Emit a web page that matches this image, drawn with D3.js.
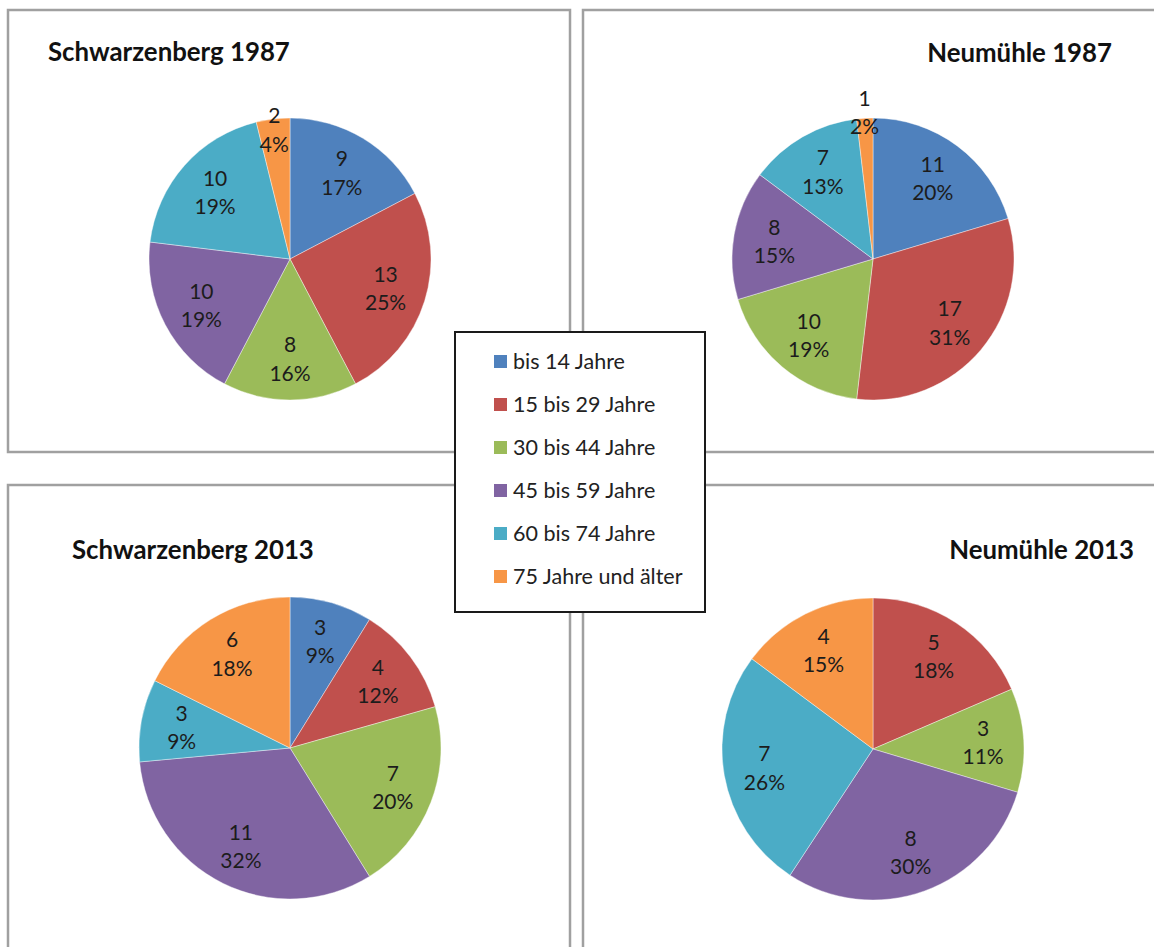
<!DOCTYPE html>
<html>
<head>
<meta charset="utf-8">
<script src="https://cdn.jsdelivr.net/npm/d3@7"></script>
<style>
  body{margin:0;background:#fff;}
  svg{display:block;font-family:Lato,"Open Sans",sans-serif;}
</style>
</head>
<body>
<div id="chart"></div>
<script>
// age groups (legend order = slice order)
var categories=["bis 14 Jahre","15 bis 29 Jahre","30 bis 44 Jahre","45 bis 59 Jahre","60 bis 74 Jahre","75 Jahre und älter"];
var colors=["#4F81BD","#C0504D","#9BBB59","#8064A2","#4BACC6","#F79646"];

var titles=["Schwarzenberg 1987","Neumühle 1987","Schwarzenberg 2013","Neumühle 2013"];

// counts per age group
var schwarzenberg1987=[9,13,8,10,10,2];
var neumuehle1987=[11,17,10,8,7,1];
var schwarzenberg2013=[3,4,7,11,3,6];
var neumuehle2013=[0,5,3,8,7,4];

// percentages as printed on the labels
var schwarzenberg1987Pct=[17,25,16,19,19,4];
var neumuehle1987Pct=[20,31,19,15,13,2];
var schwarzenberg2013Pct=[9,12,20,32,9,18];
var neumuehle2013Pct=[0,18,11,30,26,15];

var series=[schwarzenberg1987,neumuehle1987,schwarzenberg2013,neumuehle2013];
var percents=[schwarzenberg1987Pct,neumuehle1987Pct,schwarzenberg2013Pct,neumuehle2013Pct];

// panel layout
var panels=[
  {x:8,y:10,w:562,h:442,cx:290,cy:259,r:141,tx:48,ty:61,anchor:"start",lr:0.71},
  {x:583,y:10,w:600,h:442,cx:873,cy:259,r:141,tx:1112,ty:62,anchor:"end",lr:0.71},
  {x:8,y:485,w:562,h:500,cx:290,cy:748,r:151,tx:72,ty:559,anchor:"start",lr:0.73},
  {x:583,y:485,w:600,h:500,cx:873,cy:749,r:151,tx:1134,ty:559,anchor:"end",lr:0.73}
];

var width=1154,height=947;

var svg=d3.select("#chart").append("svg")
  .attr("width",width)
  .attr("height",height);

var color=d3.scaleOrdinal()
  .domain(categories)
  .range(colors);

var pie=d3.pie()
  .sort(null)
  .value(function(d){return d.value;});

for(var p=0;p<panels.length;p++){
  var P=panels[p];
  var values=series[p];
  var pct=percents[p];
  var total=d3.sum(values);

  var data=categories.map(function(c,i){
    return {cat:c,value:values[i],pct:pct[i]};
  });

  svg.append("rect")
    .attr("x",P.x)
    .attr("y",P.y)
    .attr("width",P.w)
    .attr("height",P.h)
    .attr("fill","#fff")
    .attr("stroke","#a0a0a0")
    .attr("stroke-width",2.5);

  svg.append("text")
    .attr("x",P.tx)
    .attr("y",P.ty)
    .attr("text-anchor",P.anchor)
    .style("font-size","25.8px")
    .style("font-weight","bold")
    .style("fill","#111")
    .text(titles[p]);

  var arc=d3.arc()
    .innerRadius(0)
    .outerRadius(P.r);

  var g=svg.append("g")
    .attr("transform","translate("+P.cx+","+P.cy+")");

  var arcs=pie(data).filter(function(d){return d.data.value>0;});

  g.selectAll("path")
    .data(arcs)
    .enter().append("path")
    .attr("d",arc)
    .attr("fill",function(d){return color(d.data.cat);})
    .attr("stroke","#fff")
    .attr("stroke-opacity",0.5)
    .attr("stroke-width",0.8);

  // label radius: small slices get pushed outwards like excel's best fit
  var lr=P.lr;
  var labels=g.selectAll("g.lbl")
    .data(arcs)
    .enter().append("g")
    .attr("class","lbl")
    .attr("transform",function(d){
      var frac=d.data.value/total;
      var k=lr;
      if(frac<0.03) k=1.04;
      else if(frac<0.05) k=0.92;
      var a=(d.startAngle+d.endAngle)/2;
      return "translate("+(Math.sin(a)*P.r*k)+","+(-Math.cos(a)*P.r*k)+")";
    });

  labels.append("text")
    .attr("text-anchor","middle")
    .attr("dy","-0.33em")
    .style("font-size","21px")
    .style("fill","#1c1c1c")
    .text(function(d){return d.data.value;});

  labels.append("text")
    .attr("text-anchor","middle")
    .attr("dy","1.02em")
    .style("font-size","21px")
    .style("fill","#1c1c1c")
    .text(function(d){return d.data.pct+"%";});
}

// legend box in the middle
var legend=svg.append("g")
  .attr("transform","translate(455,332)");

legend.append("rect")
  .attr("width",250)
  .attr("height",280)
  .attr("fill","#fff")
  .attr("stroke","#1a1a1a")
  .attr("stroke-width",2);

var rowY=d3.scalePoint()
  .domain(categories)
  .range([30,245]);

var items=legend.selectAll("g.item")
  .data(categories)
  .enter().append("g")
  .attr("class","item")
  .attr("transform",function(d){return "translate(39,"+rowY(d)+")";});

items.append("rect")
  .attr("y",-7)
  .attr("width",13)
  .attr("height",13)
  .attr("fill",function(d){return color(d);});

items.append("text")
  .attr("x",19)
  .attr("y",7)
  .style("font-size","21.5px")
  .style("fill","#222")
  .text(function(d){return d;});
</script>
</body>
</html>
